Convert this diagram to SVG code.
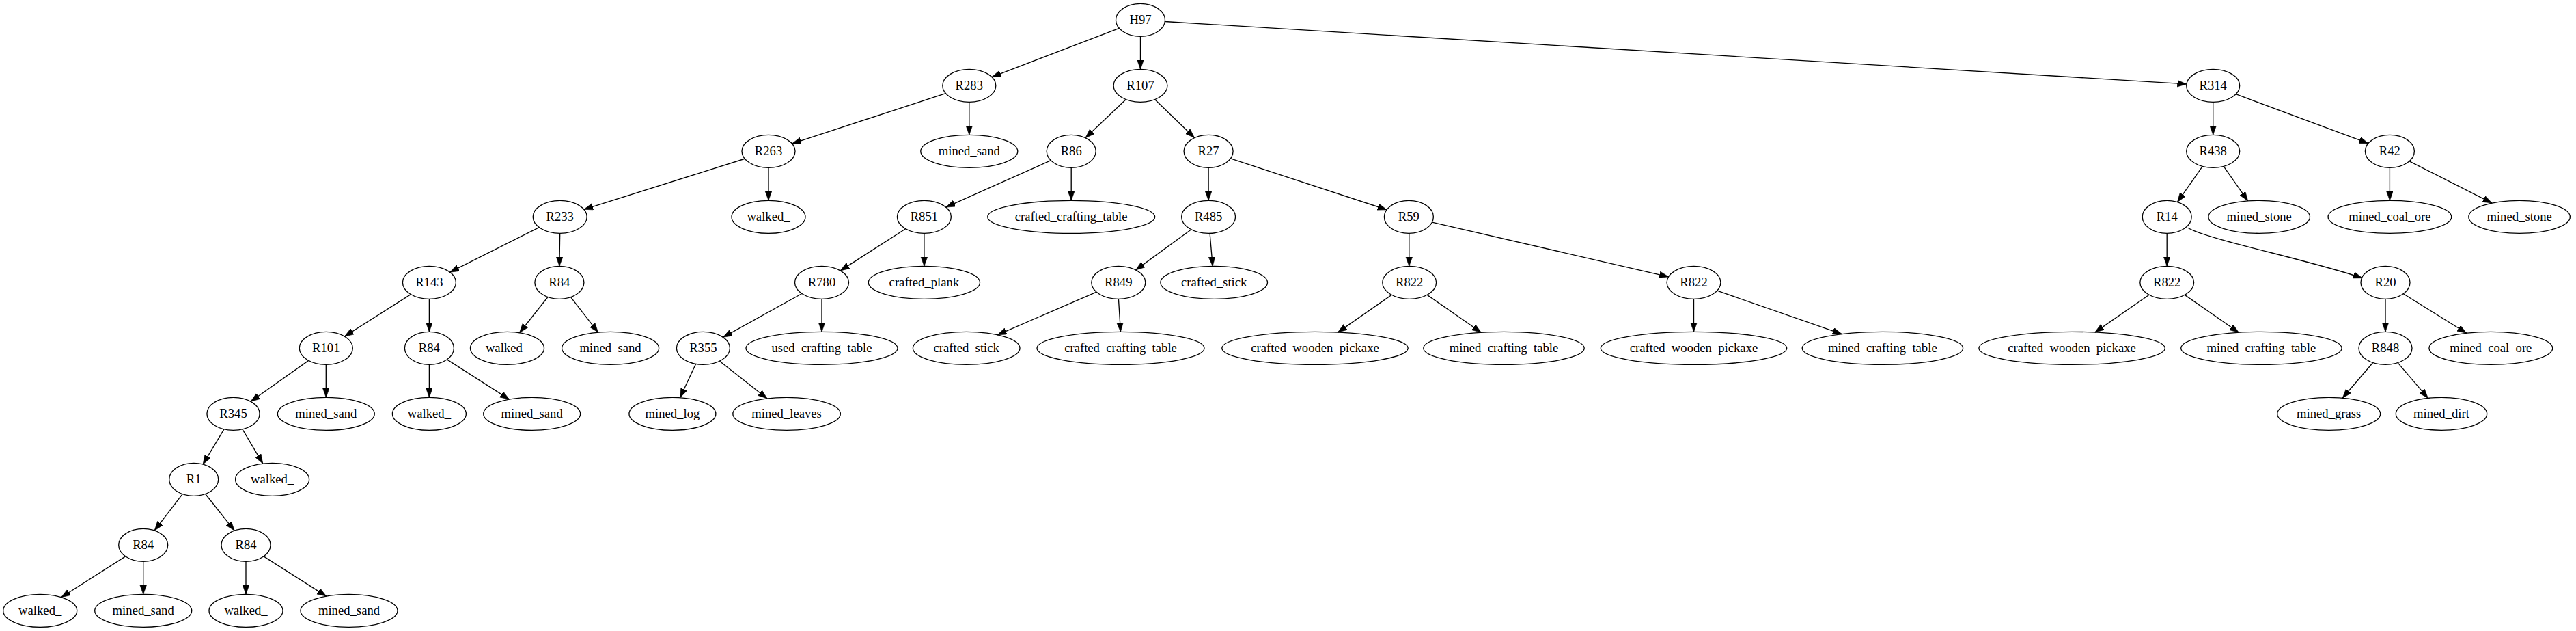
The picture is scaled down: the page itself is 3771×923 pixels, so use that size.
<svg xmlns="http://www.w3.org/2000/svg" width="3771" height="923" viewBox="0 0 3771 923">
<style>
.n ellipse{fill:none;stroke:#000;stroke-width:1.33}
.n text{font-family:"Liberation Serif","Times New Roman",serif;font-size:18.67px;text-anchor:middle;fill:#000}
.e path{fill:none;stroke:#000;stroke-width:1.33;marker-end:url(#a)}
</style>
<defs>
<marker id="a" markerUnits="userSpaceOnUse" orient="auto" markerWidth="15" markerHeight="11" refX="13.5" refY="5" viewBox="0 0 15 11">
<path d="M0,0.2 L13.5,5 L0,9.8 z" fill="#000" stroke="#000" stroke-width="0.6"/>
</marker>
</defs>
<rect width="3771" height="923" fill="#fff"/>
<g id="edges" class="e">
<path d="M1638.3,41.3 L1451.9,112.65"/>
<path d="M1669.5,53.33 L1669.5,101.33"/>
<path d="M1705.35,31.5 L3200.9,122.96"/>
<path d="M1384.35,136.6 L1159.45,210.07"/>
<path d="M1418.8,149.33 L1418.8,197.33"/>
<path d="M1648.2,145.5 L1588.9,201.7"/>
<path d="M1690.55,145.6 L1748.6,201.6"/>
<path d="M3239.7,149.33 L3239.7,197.33"/>
<path d="M3273.1,137.7 L3466.9,209.66"/>
<path d="M1090.27,232.25 L854.8,306.3"/>
<path d="M1125,245.33 L1125,293.33"/>
<path d="M1538.3,234.7 L1384.7,303.1"/>
<path d="M1568.2,245.33 L1568.2,293.33"/>
<path d="M1769.1,245.33 L1769.1,293.33"/>
<path d="M1801.4,231.9 L2030.1,306.75"/>
<path d="M3224.2,243.4 L3187.5,295.6"/>
<path d="M3255.2,243.4 L3290.7,293.9"/>
<path d="M3498.4,245.33 L3498.4,293.33"/>
<path d="M3527.1,235.8 L3648.1,297.1"/>
<path d="M789.2,332.6 L658.6,398.2"/>
<path d="M819.7,341.33 L818.9,389.33"/>
<path d="M1325.7,334.7 L1230.2,395.9"/>
<path d="M1352.9,341.33 L1352.9,389.33"/>
<path d="M1743.8,335.8 L1662.6,394.9"/>
<path d="M1771.1,341.3 L1775.2,389.3"/>
<path d="M2062.8,341.33 L2062.8,389.33"/>
<path d="M2096.4,325.2 L2442.6,404.85"/>
<path d="M3172.2,341.33 L3172.2,389.33"/>
<path d="M3202.7,333.3 C3230,350 3380,380 3458.2,406.7"/>
<path d="M601.3,430.6 L504.4,492.1"/>
<path d="M628.4,437.33 L628.4,485.33"/>
<path d="M802,434.5 L760.5,486.7"/>
<path d="M835.5,434.6 L875.5,486.1"/>
<path d="M1173.8,429.5 L1058.4,493.3"/>
<path d="M1203,437.33 L1203,485.33"/>
<path d="M1605.1,427.2 L1460.1,489.8"/>
<path d="M1637.4,437.3 L1640.4,485.3"/>
<path d="M2037.2,431.4 L1958.5,486.1"/>
<path d="M2089.2,431.4 L2168.3,486.3"/>
<path d="M2479.5,437.33 L2479.5,485.33"/>
<path d="M2513.7,425.2 L2696.3,488.6"/>
<path d="M3146.1,431.3 L3066.8,486.1"/>
<path d="M3198.2,431.4 L3277.3,486.3"/>
<path d="M3492,437.33 L3492,485.33"/>
<path d="M3518.3,429.7 L3610.8,487.3"/>
<path d="M451.7,527.4 L367,587.3"/>
<path d="M477.3,533.33 L477.3,581.33"/>
<path d="M628.4,533.33 L628.4,581.33"/>
<path d="M654.4,525.9 L745.5,584.1"/>
<path d="M1018.6,532.4 L995.5,581.7"/>
<path d="M1053.5,528.2 L1123.1,582.95"/>
<path d="M3473.7,530.5 L3429.2,582.2"/>
<path d="M3510.1,530.6 L3554.4,582.4"/>
<path d="M328,627.8 L297.1,679.1"/>
<path d="M354.9,627.8 L384.8,678.1"/>
<path d="M267.2,722.7 L226.2,776"/>
<path d="M300.6,722.5 L343.2,776.1"/>
<path d="M183.65,813.9 L89.6,873.7"/>
<path d="M209.7,821.33 L209.7,869.33"/>
<path d="M360,821.33 L360,869.33"/>
<path d="M386.05,813.9 L477.7,872.1"/>
</g>
<g id="n0" class="n"><ellipse cx="1669.5" cy="29.33" rx="36" ry="24"/><text x="1669.5" y="34.93">H97</text></g>
<g id="n1" class="n"><ellipse cx="1418.8" cy="125.33" rx="39" ry="24"/><text x="1418.8" y="130.93">R283</text></g>
<g id="n2" class="n"><ellipse cx="1669.5" cy="125.33" rx="39.4" ry="24"/><text x="1669.5" y="130.93">R107</text></g>
<g id="n3" class="n"><ellipse cx="3239.7" cy="125.33" rx="39" ry="24"/><text x="3239.7" y="130.93">R314</text></g>
<g id="n4" class="n"><ellipse cx="1125" cy="221.33" rx="39" ry="24"/><text x="1125" y="226.93">R263</text></g>
<g id="n5" class="n"><ellipse cx="1418.8" cy="221.33" rx="71" ry="24"/><text x="1418.8" y="226.93">mined_sand</text></g>
<g id="n6" class="n"><ellipse cx="1568.2" cy="221.33" rx="36" ry="24"/><text x="1568.2" y="226.93">R86</text></g>
<g id="n7" class="n"><ellipse cx="1769.1" cy="221.33" rx="36" ry="24"/><text x="1769.1" y="226.93">R27</text></g>
<g id="n8" class="n"><ellipse cx="3239.7" cy="221.33" rx="39" ry="24"/><text x="3239.7" y="226.93">R438</text></g>
<g id="n9" class="n"><ellipse cx="3498.4" cy="221.33" rx="36" ry="24"/><text x="3498.4" y="226.93">R42</text></g>
<g id="n10" class="n"><ellipse cx="819.7" cy="317.33" rx="39.5" ry="24"/><text x="819.7" y="322.93">R233</text></g>
<g id="n11" class="n"><ellipse cx="1125" cy="317.33" rx="54" ry="24"/><text x="1125" y="322.93">walked_</text></g>
<g id="n12" class="n"><ellipse cx="1352.9" cy="317.33" rx="39.5" ry="24"/><text x="1352.9" y="322.93">R851</text></g>
<g id="n13" class="n"><ellipse cx="1568.2" cy="317.33" rx="122.5" ry="24"/><text x="1568.2" y="322.93">crafted_crafting_table</text></g>
<g id="n14" class="n"><ellipse cx="1769.1" cy="317.33" rx="39.5" ry="24"/><text x="1769.1" y="322.93">R485</text></g>
<g id="n15" class="n"><ellipse cx="2062.4" cy="317.33" rx="36" ry="24"/><text x="2062.4" y="322.93">R59</text></g>
<g id="n16" class="n"><ellipse cx="3172.2" cy="317.33" rx="36" ry="24"/><text x="3172.2" y="322.93">R14</text></g>
<g id="n17" class="n"><ellipse cx="3307.2" cy="317.33" rx="74.3" ry="24"/><text x="3307.2" y="322.93">mined_stone</text></g>
<g id="n18" class="n"><ellipse cx="3498.4" cy="317.33" rx="90.4" ry="24"/><text x="3498.4" y="322.93">mined_coal_ore</text></g>
<g id="n19" class="n"><ellipse cx="3688.1" cy="317.33" rx="74.3" ry="24"/><text x="3688.1" y="322.93">mined_stone</text></g>
<g id="n20" class="n"><ellipse cx="628.4" cy="413.33" rx="39" ry="24"/><text x="628.4" y="418.93">R143</text></g>
<g id="n21" class="n"><ellipse cx="818.9" cy="413.33" rx="36" ry="24"/><text x="818.9" y="418.93">R84</text></g>
<g id="n22" class="n"><ellipse cx="1203" cy="413.33" rx="39.5" ry="24"/><text x="1203" y="418.93">R780</text></g>
<g id="n23" class="n"><ellipse cx="1352.9" cy="413.33" rx="81.6" ry="24"/><text x="1352.9" y="418.93">crafted_plank</text></g>
<g id="n24" class="n"><ellipse cx="1637.3" cy="413.33" rx="39.5" ry="24"/><text x="1637.3" y="418.93">R849</text></g>
<g id="n25" class="n"><ellipse cx="1777.2" cy="413.33" rx="78.3" ry="24"/><text x="1777.2" y="418.93">crafted_stick</text></g>
<g id="n26" class="n"><ellipse cx="2063.2" cy="413.33" rx="39.4" ry="24"/><text x="2063.2" y="418.93">R822</text></g>
<g id="n27" class="n"><ellipse cx="2479.5" cy="413.33" rx="39.4" ry="24"/><text x="2479.5" y="418.93">R822</text></g>
<g id="n28" class="n"><ellipse cx="3172.2" cy="413.33" rx="39.4" ry="24"/><text x="3172.2" y="418.93">R822</text></g>
<g id="n29" class="n"><ellipse cx="3492" cy="413.33" rx="36" ry="24"/><text x="3492" y="418.93">R20</text></g>
<g id="n30" class="n"><ellipse cx="477.3" cy="509.33" rx="39" ry="24"/><text x="477.3" y="514.93">R101</text></g>
<g id="n31" class="n"><ellipse cx="628.4" cy="509.33" rx="36" ry="24"/><text x="628.4" y="514.93">R84</text></g>
<g id="n32" class="n"><ellipse cx="742.5" cy="509.33" rx="54" ry="24"/><text x="742.5" y="514.93">walked_</text></g>
<g id="n33" class="n"><ellipse cx="893.6" cy="509.33" rx="71" ry="24"/><text x="893.6" y="514.93">mined_sand</text></g>
<g id="n34" class="n"><ellipse cx="1029.4" cy="509.33" rx="39" ry="24"/><text x="1029.4" y="514.93">R355</text></g>
<g id="n35" class="n"><ellipse cx="1203" cy="509.33" rx="111" ry="24"/><text x="1203" y="514.93">used_crafting_table</text></g>
<g id="n36" class="n"><ellipse cx="1414.7" cy="509.33" rx="78.3" ry="24"/><text x="1414.7" y="514.93">crafted_stick</text></g>
<g id="n37" class="n"><ellipse cx="1640.5" cy="509.33" rx="122.5" ry="24"/><text x="1640.5" y="514.93">crafted_crafting_table</text></g>
<g id="n38" class="n"><ellipse cx="1925" cy="509.33" rx="136.2" ry="24"/><text x="1925" y="514.93">crafted_wooden_pickaxe</text></g>
<g id="n39" class="n"><ellipse cx="2201.5" cy="509.33" rx="117.7" ry="24"/><text x="2201.5" y="514.93">mined_crafting_table</text></g>
<g id="n40" class="n"><ellipse cx="2479.5" cy="509.33" rx="136.2" ry="24"/><text x="2479.5" y="514.93">crafted_wooden_pickaxe</text></g>
<g id="n41" class="n"><ellipse cx="2755.9" cy="509.33" rx="117.7" ry="24"/><text x="2755.9" y="514.93">mined_crafting_table</text></g>
<g id="n42" class="n"><ellipse cx="3033.1" cy="509.33" rx="136.2" ry="24"/><text x="3033.1" y="514.93">crafted_wooden_pickaxe</text></g>
<g id="n43" class="n"><ellipse cx="3310.4" cy="509.33" rx="117.7" ry="24"/><text x="3310.4" y="514.93">mined_crafting_table</text></g>
<g id="n44" class="n"><ellipse cx="3492" cy="509.33" rx="39" ry="24"/><text x="3492" y="514.93">R848</text></g>
<g id="n45" class="n"><ellipse cx="3646.3" cy="509.33" rx="90.4" ry="24"/><text x="3646.3" y="514.93">mined_coal_ore</text></g>
<g id="n46" class="n"><ellipse cx="341.5" cy="605.33" rx="38.6" ry="24"/><text x="341.5" y="610.93">R345</text></g>
<g id="n47" class="n"><ellipse cx="477.3" cy="605.33" rx="71" ry="24"/><text x="477.3" y="610.93">mined_sand</text></g>
<g id="n48" class="n"><ellipse cx="628.4" cy="605.33" rx="54" ry="24"/><text x="628.4" y="610.93">walked_</text></g>
<g id="n49" class="n"><ellipse cx="778.7" cy="605.33" rx="71" ry="24"/><text x="778.7" y="610.93">mined_sand</text></g>
<g id="n50" class="n"><ellipse cx="984.4" cy="605.33" rx="63.5" ry="24"/><text x="984.4" y="610.93">mined_log</text></g>
<g id="n51" class="n"><ellipse cx="1151.6" cy="605.33" rx="78.8" ry="24"/><text x="1151.6" y="610.93">mined_leaves</text></g>
<g id="n52" class="n"><ellipse cx="3409.2" cy="605.33" rx="75.5" ry="24"/><text x="3409.2" y="610.93">mined_grass</text></g>
<g id="n53" class="n"><ellipse cx="3574" cy="605.33" rx="66.7" ry="24"/><text x="3574" y="610.93">mined_dirt</text></g>
<g id="n54" class="n"><ellipse cx="283.7" cy="701.33" rx="36" ry="24"/><text x="283.7" y="706.93">R1</text></g>
<g id="n55" class="n"><ellipse cx="398.6" cy="701.33" rx="54" ry="24"/><text x="398.6" y="706.93">walked_</text></g>
<g id="n56" class="n"><ellipse cx="209.7" cy="797.33" rx="36" ry="24"/><text x="209.7" y="802.93">R84</text></g>
<g id="n57" class="n"><ellipse cx="360" cy="797.33" rx="36" ry="24"/><text x="360" y="802.93">R84</text></g>
<g id="n58" class="n"><ellipse cx="58.7" cy="893.33" rx="54" ry="24"/><text x="58.7" y="898.93">walked_</text></g>
<g id="n59" class="n"><ellipse cx="209.7" cy="893.33" rx="71" ry="24"/><text x="209.7" y="898.93">mined_sand</text></g>
<g id="n60" class="n"><ellipse cx="360" cy="893.33" rx="54" ry="24"/><text x="360" y="898.93">walked_</text></g>
<g id="n61" class="n"><ellipse cx="511" cy="893.33" rx="71" ry="24"/><text x="511" y="898.93">mined_sand</text></g>
</svg>
